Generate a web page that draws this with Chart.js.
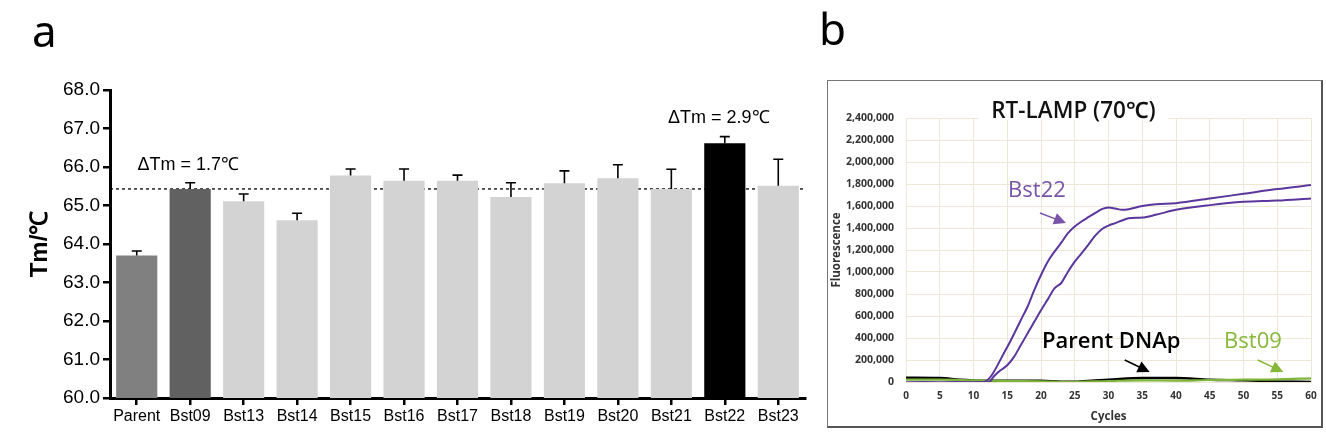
<!DOCTYPE html>
<html>
<head>
<meta charset="utf-8">
<script src="https://cdn.jsdelivr.net/npm/chart.js@4"></script>
<style>
  body { margin: 0; background: #fff; }
  #wrap { position: relative; width: 1326px; height: 432px; }
  #chartA { position: absolute; left: 0; top: 0; }
  #frameB { position: absolute; left: 827px; top: 80px; width: 493px; height: 345px;
            border: 1px solid #777; border-right: 2px solid #555; border-bottom: 2px solid #555; background: #fff; }
  #chartB { position: absolute; left: 0; top: 0; }
</style>
</head>
<body>
<div id="wrap">
  <canvas id="chartA" width="1326" height="432"></canvas>
  <div id="frameB"><canvas id="chartB" width="493" height="345"></canvas></div>
</div>
<script>
// ---- panel a: melting temperature of each variant
const categories = ["Parent", "Bst09", "Bst13", "Bst14", "Bst15", "Bst16", "Bst17", "Bst18", "Bst19", "Bst20", "Bst21", "Bst22", "Bst23"];
const tmMeans = [63.70, 65.43, 65.11, 64.62, 65.78, 65.64, 65.64, 65.22, 65.58, 65.71, 65.43, 66.62, 65.51];
const tmErrors = [0.12, 0.16, 0.19, 0.18, 0.17, 0.31, 0.15, 0.37, 0.32, 0.35, 0.51, 0.17, 0.69];
const tmAxis = [60, 68];

// ---- panel b: RT-LAMP curves
const bst22UpperCycles = [0, 5, 10, 11.5, 15, 17, 18, 19, 20, 21, 22, 23, 24, 25, 26, 27, 28, 29, 30, 31, 32, 33, 35, 37, 40, 45, 50, 55, 60];
const bst22UpperValues = [-4000, -4000, -4000, 0, 319000, 562000, 684000, 836000, 973000, 1094000, 1185000, 1267000, 1353000, 1413000, 1459000, 1498000, 1535000, 1571000, 1586000, 1577000, 1565000, 1571000, 1600000, 1617000, 1626000, 1668000, 1711000, 1754000, 1790000];
const bst22LowerCycles = [0, 5, 10, 12.3, 13, 14, 15, 16, 17, 18, 19, 20, 21, 22, 23, 24, 25, 26, 27, 28, 29, 30, 31, 32, 33, 35, 37, 40, 45, 50, 55, 60];
const bst22LowerValues = [-5000, -5000, -5000, 0, 50000, 106000, 152000, 228000, 334000, 441000, 547000, 653000, 751000, 851000, 900000, 1003000, 1094000, 1170000, 1246000, 1328000, 1389000, 1422000, 1444000, 1468000, 1489000, 1495000, 1520000, 1565000, 1608000, 1638000, 1650000, 1669000];
const parentCycles = [0, 5, 8, 10, 12, 15, 20, 23, 25, 28, 30, 35, 40, 45, 50, 55, 60];
const parentValues = [39000, 36000, 21000, 15000, 12000, 12000, 12000, 3000, 3000, 15000, 21000, 36000, 36000, 21000, 15000, 6000, 0];
const bst09Cycles = [0, 5, 10, 15, 20, 24, 30, 35, 40, 45, 50, 55, 60];
const bst09Values = [21000, 21000, 15000, 9000, 6000, 0, 9000, 15000, 12000, 18000, 21000, 24000, 33000];
const fluorAxis = [0, 2400000];
const cycleAxis = [0, 60];

const barColors = ["#808080", "#616161", "#d3d3d3", "#d3d3d3", "#d3d3d3", "#d3d3d3", "#d3d3d3", "#d3d3d3", "#d3d3d3", "#d3d3d3", "#d3d3d3", "#000000", "#d3d3d3"];
const ARIAL = "'Liberation Sans', Arial, sans-serif";
const SANS = "'Open Sans', 'Noto Sans', sans-serif";

function pairs(xs, ys) {
  return xs.map((x, i) => ({ x: x, y: ys[i] }));
}

// dashed reference line (Bst09 level), error bars and labels
const panelAExtras = {
  id: "panelAExtras",
  beforeDatasetsDraw(chart) {
    const { ctx, chartArea, scales } = chart;
    const y = scales.y.getPixelForValue(tmMeans[1]);
    ctx.save();
    ctx.strokeStyle = "#000";
    ctx.lineWidth = 1.3;
    ctx.setLineDash([3, 3]);
    ctx.beginPath();
    ctx.moveTo(chartArea.left, y);
    ctx.lineTo(chartArea.right, y);
    ctx.stroke();
    ctx.restore();
  },
  afterDatasetsDraw(chart) {
    const { ctx, scales } = chart;
    const meta = chart.getDatasetMeta(0);
    ctx.save();
    ctx.strokeStyle = "#000";
    ctx.lineWidth = 1.6;
    meta.data.forEach((bar, i) => {
      const top = scales.y.getPixelForValue(tmMeans[i] + tmErrors[i]);
      ctx.beginPath();
      ctx.moveTo(bar.x, bar.y);
      ctx.lineTo(bar.x, top);
      ctx.moveTo(bar.x - 5, top);
      ctx.lineTo(bar.x + 5, top);
      ctx.stroke();
    });
    ctx.fillStyle = "#000";
    ctx.font = "18px " + ARIAL;
    ctx.textAlign = "center";
    ctx.textBaseline = "alphabetic";
    ctx.fillText("ΔTm = 1.7℃", meta.data[1].x - 2, scales.y.getPixelForValue(65.92));
    ctx.fillText("ΔTm = 2.9℃", meta.data[11].x - 6, scales.y.getPixelForValue(67.14));
    // panel letters
    ctx.font = "44px 'Noto Sans', sans-serif";
    ctx.textAlign = "left";
    ctx.fillText("a", 32, 47);
    ctx.fillText("b", 819, 45);
    ctx.restore();
  }
};

new Chart(document.getElementById("chartA"), {
  type: "bar",
  data: {
    labels: categories,
    datasets: [{
      data: tmMeans,
      backgroundColor: barColors,
      borderWidth: 0,
      categoryPercentage: 1,
      barPercentage: 0.77
    }]
  },
  options: {
    responsive: false,
    animation: false,
    layout: { padding: { left: 22, top: 90, right: 521, bottom: 0 } },
    plugins: { legend: { display: false }, tooltip: { enabled: false } },
    scales: {
      x: {
        afterFit: (s) => { s.height = 34; },
        grid: { display: true, drawOnChartArea: false, drawTicks: true, tickLength: 7, color: "#000", lineWidth: 2.5, offset: false },
        border: { color: "#000", width: 3 },
        ticks: { color: "#000", font: { family: ARIAL, size: 16 }, padding: 2, maxRotation: 0, autoSkip: false }
      },
      y: {
        min: tmAxis[0],
        max: tmAxis[1],
        afterFit: (s) => { s.width = 88; },
        grid: { display: true, drawOnChartArea: false, drawTicks: true, tickLength: 7, color: "#000", lineWidth: 2.5 },
        border: { color: "#000", width: 3 },
        ticks: { stepSize: 1, color: "#000", font: { family: ARIAL, size: 19 }, padding: 3, callback: (v) => Number(v).toFixed(1) },
        title: { display: true, text: "Tm/℃", color: "#000", font: { family: ARIAL, size: 24, weight: "bold" }, padding: { top: 4, bottom: 0 } }
      }
    }
  },
  plugins: [panelAExtras]
});

// ---- panel b
const PURPLE = "#5b369c";
const GREEN = "#7db53a";
const bNotes = [
  { text: "Bst22", color: "#7853a8", weight: "", x: 19.4, y: 1680000, from: [19.85, 1536000], to: [23.7, 1445000] },
  { text: "Parent DNAp", color: "#000", weight: "600 ", x: 30.4, y: 309000, from: [32.4, 200000], to: [36.1, 91000] },
  { text: "Bst09", color: "#86b83a", weight: "", x: 51.4, y: 309000, from: [52.1, 200000], to: [55.9, 91000] }
];

const panelBExtras = {
  id: "panelBExtras",
  afterDraw(chart) {
    const { ctx, scales } = chart;
    const sx = scales.x, sy = scales.y;
    ctx.save();
    // title with white box over the top grid line
    const tx = sx.getPixelForValue(24.8);
    ctx.fillStyle = "#fff";
    ctx.fillRect(tx - 95, 14, 190, 25);
    ctx.fillStyle = "#111";
    ctx.font = "600 22.5px " + SANS;
    ctx.textAlign = "center";
    ctx.textBaseline = "alphabetic";
    ctx.fillText("RT-LAMP (70℃)", tx, 37);
    bNotes.forEach((n) => {
      ctx.fillStyle = n.color;
      ctx.strokeStyle = n.color;
      ctx.font = n.weight + "22px " + SANS;
      ctx.fillText(n.text, sx.getPixelForValue(n.x), sy.getPixelForValue(n.y));
      const x1 = sx.getPixelForValue(n.from[0]), y1 = sy.getPixelForValue(n.from[1]);
      const x2 = sx.getPixelForValue(n.to[0]), y2 = sy.getPixelForValue(n.to[1]);
      const a = Math.atan2(y2 - y1, x2 - x1);
      ctx.lineWidth = 1.5;
      ctx.beginPath();
      ctx.moveTo(x1, y1);
      ctx.lineTo(x2 - 8 * Math.cos(a), y2 - 8 * Math.sin(a));
      ctx.stroke();
      ctx.beginPath();
      ctx.moveTo(x2, y2);
      ctx.lineTo(x2 - 12 * Math.cos(a) + 6 * Math.sin(a), y2 - 12 * Math.sin(a) - 6 * Math.cos(a));
      ctx.lineTo(x2 - 12 * Math.cos(a) - 6 * Math.sin(a), y2 - 12 * Math.sin(a) + 6 * Math.cos(a));
      ctx.closePath();
      ctx.fill();
    });
    ctx.restore();
  }
};

new Chart(document.getElementById("chartB"), {
  type: "line",
  data: {
    datasets: [
      { label: "Bst22 a", data: pairs(bst22UpperCycles, bst22UpperValues), borderColor: PURPLE, borderWidth: 2, order: 1 },
      { label: "Bst22 b", data: pairs(bst22LowerCycles, bst22LowerValues), borderColor: PURPLE, borderWidth: 2, order: 2 },
      { label: "Bst09", data: pairs(bst09Cycles, bst09Values), borderColor: GREEN, borderWidth: 2.2, order: 3 },
      { label: "Parent DNAp", data: pairs(parentCycles, parentValues), borderColor: "#000", borderWidth: 2.4, order: 4 }
    ]
  },
  options: {
    responsive: false,
    animation: false,
    layout: { padding: { left: 0, top: 37, right: 10, bottom: 0 } },
    elements: { point: { radius: 0 }, line: { cubicInterpolationMode: "monotone", fill: false } },
    plugins: { legend: { display: false }, tooltip: { enabled: false } },
    scales: {
      x: {
        type: "linear",
        min: cycleAxis[0],
        max: cycleAxis[1],
        afterFit: (s) => { s.height = 44; s.paddingRight = 0; s.paddingLeft = 0; },
        grid: { color: "#ece7d7", lineWidth: 1, drawTicks: false },
        border: { color: "#ece7d7" },
        ticks: { stepSize: 5, color: "#333", padding: 8, font: { family: SANS, size: 10, weight: "bold" } },
        title: { display: true, text: "Cycles", color: "#333", font: { family: SANS, size: 11.5, weight: "bold" }, padding: { top: 0, bottom: 2 } }
      },
      y: {
        min: fluorAxis[0],
        max: fluorAxis[1],
        afterFit: (s) => { s.width = 78; },
        grid: { color: "#ece7d7", lineWidth: 1, drawTicks: false },
        border: { color: "#ece7d7" },
        ticks: { stepSize: 200000, color: "#333", padding: 12, font: { family: SANS, size: 10.5, weight: "bold" }, callback: (v) => Number(v).toLocaleString("en-US") },
        title: { display: true, text: "Fluorescence", color: "#333", font: { family: SANS, size: 11.5, weight: "bold" }, padding: { top: 2, bottom: 0 } }
      }
    }
  },
  plugins: [panelBExtras]
});
</script>
</body>
</html>
